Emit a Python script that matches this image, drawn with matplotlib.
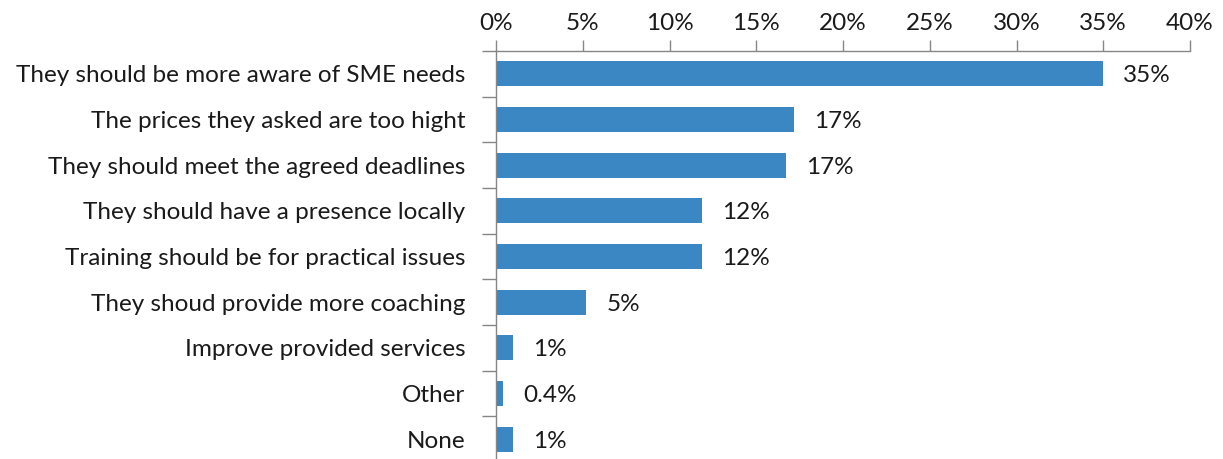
import matplotlib
matplotlib.use("Agg")
import matplotlib.pyplot as plt
from matplotlib.ticker import FixedLocator, PercentFormatter

categories = [
    "They should be more aware of SME needs",
    "The prices they asked are too hight",
    "They should meet the agreed deadlines",
    "They should have a presence locally",
    "Training should be for practical issues",
    "They shoud provide more coaching",
    "Improve provided services",
    "Other",
    "None",
]
values = [35.0, 17.2, 16.7, 11.9, 11.9, 5.2, 1.0, 0.4, 1.0]
x_ticks = [0, 5, 10, 15, 20, 25, 30, 35, 40]

BAR_COLOR = "#3A87C4"
AXIS_COLOR = "#868686"
TEXT_COLOR = "#1a1a1a"
FS = 17.5

plt.rcParams["font.family"] = ["Lato", "DejaVu Sans"]

fig = plt.figure(figsize=(12.23, 4.59), dpi=100)
ax = fig.add_axes([496 / 1223, 1 - 462 / 459, (1190 - 496) / 1223, (462 - 51) / 459])

ypos = list(range(len(categories)))
ax.barh(ypos, values, height=0.55, color=BAR_COLOR, zorder=2)

ax.set_xlim(0, 40)
ax.set_ylim(len(categories) - 0.5, -0.5)

ax.xaxis.tick_top()
ax.xaxis.set_major_locator(FixedLocator(x_ticks))
ax.xaxis.set_major_formatter(PercentFormatter(decimals=0))
ax.tick_params(axis="x", direction="out", length=8, width=1, color=AXIS_COLOR,
               labelsize=FS, labelcolor=TEXT_COLOR, pad=4)

# category labels sit between boundary ticks
ax.yaxis.set_major_locator(FixedLocator([i - 0.5 for i in range(len(categories) + 1)]))
ax.yaxis.set_major_formatter(plt.NullFormatter())
ax.set_yticks(ypos, labels=categories, minor=True)
ax.tick_params(axis="y", which="major", direction="out", length=10, width=1, color=AXIS_COLOR)
ax.tick_params(axis="y", which="minor", length=0, labelsize=FS, labelcolor=TEXT_COLOR, pad=22)

for side in ("right", "bottom"):
    ax.spines[side].set_visible(False)
for side in ("top", "left"):
    ax.spines[side].set_color(AXIS_COLOR)
    ax.spines[side].set_linewidth(1)

for y, v in zip(ypos, values):
    label = f"{v:.1f}%" if v < 1 else f"{v:.0f}%"
    ax.annotate(label, xy=(v, y), xytext=(20, -2), textcoords="offset pixels",
                va="center", ha="left", fontsize=FS, color=TEXT_COLOR)

fig.savefig("out.png", dpi=100)
